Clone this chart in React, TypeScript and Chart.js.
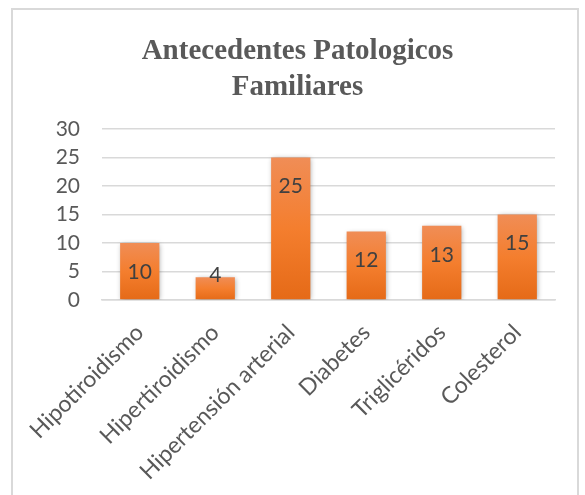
import React, { useEffect, useRef } from "react";
import { Chart, registerables } from "chart.js";

Chart.register(...registerables);

const categories = [
  "Hipotiroidismo",
  "Hipertiroidismo",
  "Hipertensión arterial",
  "Diabetes",
  "Triglicéridos",
  "Colesterol",
];
const values = [10, 4, 25, 12, 13, 15];
const titleLines = ["Antecedentes Patologicos", "Familiares"];
const yMin = 0;
const yMax = 30;
const yStep = 5;

const shadowPlugin = {
  id: "barShadow",
  beforeDatasetsDraw(chart: any) {
    const ctx = chart.ctx;
    ctx.save();
    ctx.shadowColor = "rgba(0,0,0,0.35)";
    ctx.shadowBlur = 5;
    ctx.shadowOffsetX = 1;
    ctx.shadowOffsetY = 1;
  },
  afterDatasetsDraw(chart: any) {
    chart.ctx.restore();
  },
};

const labelPlugin = {
  id: "barLabels",
  afterDatasetsDraw(chart: any) {
    const ctx = chart.ctx;
    const meta = chart.getDatasetMeta(0);
    ctx.save();
    ctx.font = "21px Lato";
    ctx.fillStyle = "#404040";
    ctx.textAlign = "center";
    ctx.textBaseline = "middle";
    meta.data.forEach((bar: any, i: number) => {
      const y = Math.min(bar.y + 29, bar.base - 24);
      ctx.fillText(String(chart.data.datasets[0].data[i]), bar.x, y);
    });
    ctx.restore();
  },
};

export default function App() {
  const ref = useRef<HTMLCanvasElement | null>(null);
  useEffect(() => {
    if (!ref.current) return;
    const chart = new Chart(ref.current, {
      type: "bar",
      data: {
        labels: categories,
        datasets: [
          {
            data: values,
            backgroundColor: (c: any) => {
              const ch = c.chart;
              const ys = ch.scales && ch.scales.y;
              if (!ys || c.parsed === undefined || c.parsed === null) return "#F07F2F";
              const top = ys.getPixelForValue(c.parsed.y);
              const base = ys.getPixelForValue(0);
              if (!isFinite(top) || !isFinite(base) || top === base) return "#F07F2F";
              const g = ch.ctx.createLinearGradient(0, top, 0, base);
              g.addColorStop(0, "#F08D56");
              g.addColorStop(0.5, "#F47E2E");
              g.addColorStop(1, "#E56A17");
              return g;
            },
            borderWidth: 0,
            barPercentage: 0.52,
            categoryPercentage: 1,
          },
        ],
      },
      options: {
        responsive: false,
        animation: false,
        layout: { padding: { left: 40, right: 30, top: 34, bottom: 0 } },
        plugins: {
          legend: { display: false },
          tooltip: { enabled: false },
          title: {
            display: true,
            text: titleLines,
            color: "#595959",
            font: { family: "Liberation Serif", size: 29, weight: "bold", lineHeight: 1.24 },
            padding: { top: 0, bottom: 23 },
          },
        },
        scales: {
          x: {
            afterFit: (s: any) => {
              s.height = 195;
            },
            grid: { display: false, drawTicks: false },
            border: { color: "#D9D9D9", width: 1.5 },
            ticks: {
              color: "#595959",
              font: { family: "Lato", size: 23 },
              maxRotation: 45,
              minRotation: 45,
              padding: 19,
              autoSkip: false,
            },
          },
          y: {
            min: yMin,
            max: yMax,
            afterFit: (s: any) => {
              s.width = 62;
            },
            grid: { color: "#D9D9D9", lineWidth: 1.5, drawTicks: false },
            border: { display: false },
            ticks: {
              stepSize: yStep,
              color: "#595959",
              font: { family: "Lato", size: 21 },
              padding: 22,
            },
          },
        },
      },
      plugins: [shadowPlugin, labelPlugin],
    });
    return () => chart.destroy();
  }, []);

  return (
    <div style={{ position: "fixed", left: 0, top: 0, width: 585, height: 495, overflow: "hidden", background: "#fff" }}>
      <div
        style={{
          position: "absolute",
          left: 11,
          top: 8,
          width: 568,
          height: 520,
          border: "2px solid #D9D9D9",
          boxSizing: "border-box",
        }}
      />
      <canvas ref={ref} width={585} height={495} style={{ position: "absolute", left: 0, top: 0, display: "block" }} />
    </div>
  );
}
